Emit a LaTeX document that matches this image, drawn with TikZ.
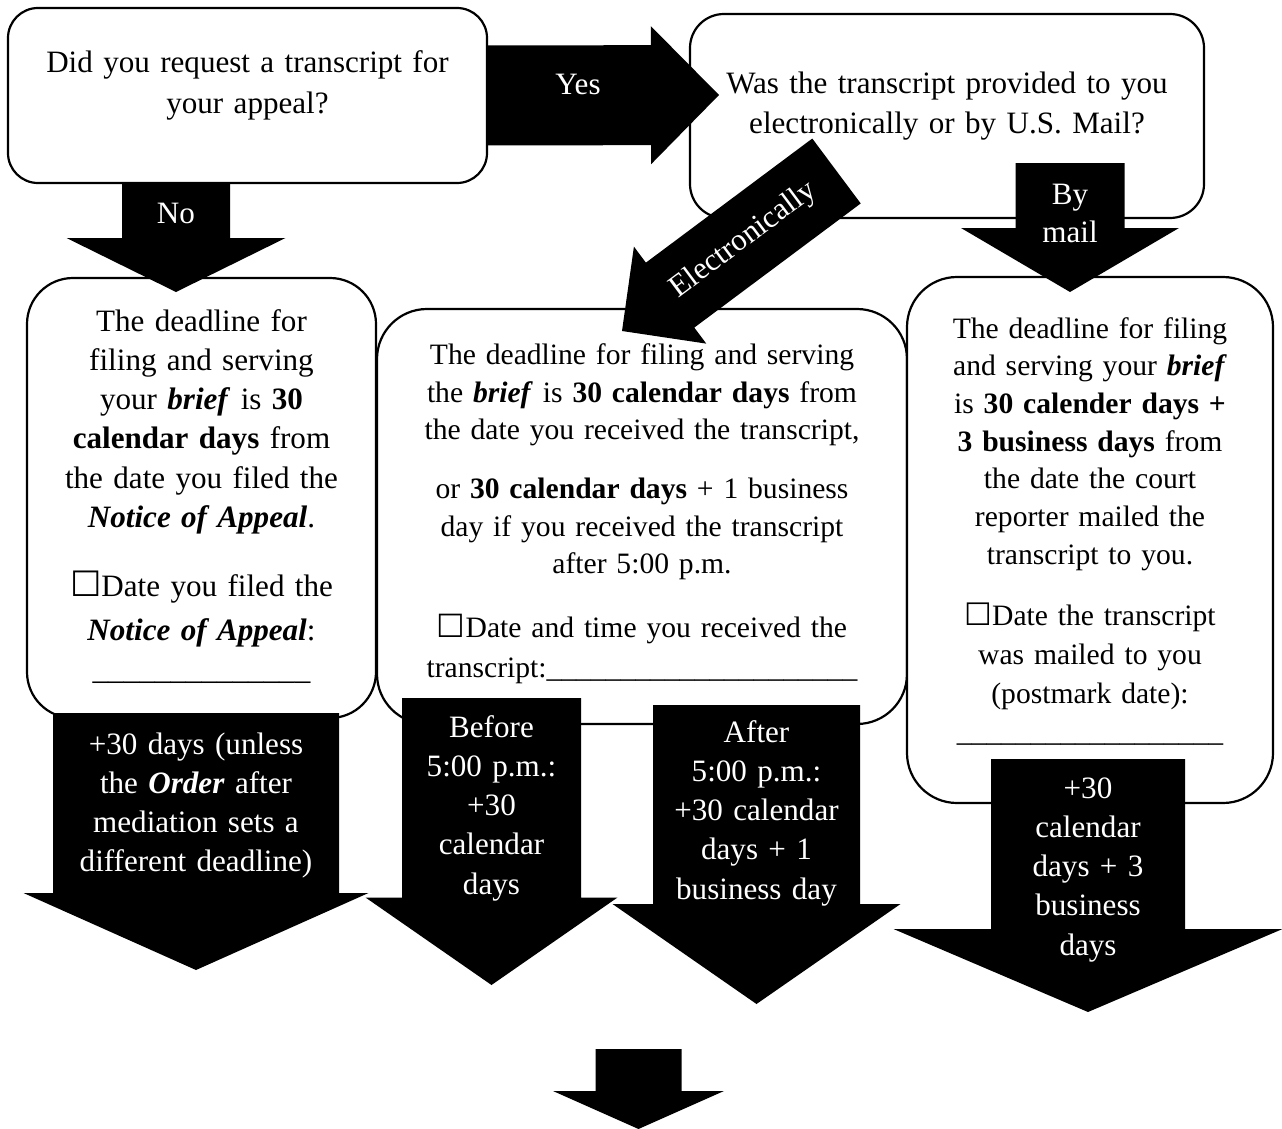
\documentclass[tikz,border=0pt]{standalone}
\usepackage{fontspec}
\setmainfont{Liberation Serif}
\newfontfamily\symfont{DejaVu Sans}
\usetikzlibrary{calc}

\newcommand{\bfit}[1]{\textbf{\textit{#1}}}
\newcommand{\chkbox}[1][35]{{\symfont\fontsize{#1}{39}\selectfont ☐}}

% block arrow: start, tip, shaft width, head width, head length
\newcommand{\blockarrow}[5]{%
  \pgfmathsetlengthmacro\arrshaft{#3/2}%
  \pgfmathsetlengthmacro\arrhead{#4/2}%
  \pgfmathsetlengthmacro\arrlen{#5}%
  \fill[blockfill] ($(#1)!\arrshaft!90:(#2)$)
    -- ($(#2)!\arrlen!(#1)!\arrshaft!-90:(#1)$)
    -- ($(#2)!\arrlen!(#1)!\arrhead!-90:(#1)$)
    -- (#2)
    -- ($(#2)!\arrlen!(#1)!\arrhead!90:(#1)$)
    -- ($(#2)!\arrlen!(#1)!\arrshaft!90:(#1)$)
    -- ($(#1)!\arrshaft!-90:(#2)$) -- cycle;
}

\tikzset{
  box/.style={draw, rounded corners=#1, line width=2.2pt, fill=white, inner sep=0pt},
  box/.default=50pt,
  txt/.style={font=\fontsize{31.1}{#1}\selectfont, text width=540pt, align=center,
    inner sep=0pt, anchor=base},
  txt/.default=39.3pt,
  stxt/.style={txt, font=\fontsize{29.6}{#1}\selectfont},
  stxt/.default=37.5pt,
  wtxt/.style={txt=#1, text=white},
  wtxt/.default=39.3pt,
  blockfill/.style={fill=black},
}

\begin{document}
\begin{tikzpicture}[x=1pt, y=-1pt]
\useasboundingbox (0,0) rectangle (1282,1129);

% question boxes
\node[box=30pt, minimum width=479pt, minimum height=175pt] (q1) at (247.5,95.5) {};
\node[box=34pt, minimum width=514pt, minimum height=204pt] (q2) at (947,116) {};
% deadline boxes
\node[box=46pt, minimum width=349pt, minimum height=440pt] (l1) at (201.5,498) {};
\node[box, minimum width=530pt, minimum height=415pt] (l2) at (642,516.5) {};
\node[box, minimum width=366pt, minimum height=526pt] (r1) at (1090,540) {};

% arrow ends
\coordinate (yes-tip) at (719,95);
\coordinate (no-start) at (176,183);
\coordinate (no-tip) at (176,292);
\coordinate (el-start) at (836.5,171);
\coordinate (el-tip) at (622,331);
\coordinate (mail-start) at (1070,163);
\coordinate (mail-tip) at (1070,292);
\coordinate (a1-start) at (196,713);
\coordinate (a1-tip) at (196,970);
\coordinate (a2-start) at (491.5,698);
\coordinate (a2-tip) at (491.5,985);
\coordinate (a3-start) at (756.5,705);
\coordinate (a3-tip) at (756.5,1004);
\coordinate (a4-start) at (1088,759);
\coordinate (a4-tip) at (1088,1012);
\coordinate (end-start) at (638.5,1049);
\coordinate (end-tip) at (638.5,1129);

\blockarrow{q1.east}{yes-tip}{100}{138}{68}
\blockarrow{no-start}{no-tip}{108}{219}{54}
\blockarrow{el-start}{el-tip}{81}{121}{60}
\blockarrow{mail-start}{mail-tip}{109}{218}{64}
\blockarrow{a1-start}{a1-tip}{286}{345}{77}
\blockarrow{a2-start}{a2-tip}{179}{252}{87.5}
\blockarrow{a3-start}{a3-tip}{207}{288}{100}
\blockarrow{a4-start}{a4-tip}{194}{389}{83}
\blockarrow{end-start}{end-tip}{86}{171}{38}

% box texts
\node[txt=41pt] (q1-txt) at (247.5,73) {Did you request a transcript for\\your appeal?};
\node[txt=40pt] (q2-txt) at (947,94) {Was the transcript provided to you\\electronically or by U.S. Mail?};
\node[txt] (l1-txt) at (201.5,331) {The deadline for\\filing and serving\\your \bfit{brief} is \textbf{30}\\
  \textbf{calendar days} from\\the date you filed the\\\bfit{Notice of Appeal}.\\[30pt]
  \chkbox Date you filed the\\[4pt]\bfit{Notice of Appeal}:\\
  \_\_\_\_\_\_\_\_\_\_\_\_\_\_};
\node[stxt] (l2-txt) at (642,364.6) {The deadline for filing and serving\\
  the \bfit{brief} is \textbf{30 calendar days} from\\the date you received the transcript,\\[21.5pt]
  or \textbf{30 calendar days} + 1 business\\day if you received the transcript\\after 5:00 p.m.\\[26.5pt]
  \chkbox[32]Date and time you received the\\[2.5pt]
  transcript:\_\_\_\_\_\_\_\_\_\_\_\_\_\_\_\_\_\_\_\_\_};
\node[stxt=37.7pt] (r1-txt) at (1090,338) {The deadline for filing\\and serving your \bfit{brief}\\
  is \textbf{30 calender days +}\\\textbf{3 business days} from\\the date the court\\
  reporter mailed the\\transcript to you.\\[24pt]
  \chkbox[31]Date the transcript\\[1pt]was mailed to you\\[1pt](postmark date):\\
  \_\_\_\_\_\_\_\_\_\_\_\_\_\_\_\_\_\_};

% arrow labels
\node[wtxt] (yes-lbl) at (578,95) {Yes};
\node[wtxt] (no-lbl) at (176,223) {No};
\node[wtxt=38pt] (mail-lbl) at (1070,204) {By\\mail};
\path (el-tip) -- (el-start) node[font=\fontsize{31.1}{39.3}\selectfont, text=white, inner sep=0pt, sloped, pos=0.567] (el-lbl) {Electronically};
\node[wtxt] (a1-lbl) at (196,754) {+30 days (unless\\the \bfit{Order} after\\mediation sets a\\different deadline)};
\node[wtxt] (a2-lbl) at (491.5,737) {Before\\5:00 p.m.:\\+30\\calendar\\days};
\node[wtxt] (a3-lbl) at (756.5,742) {After\\5:00 p.m.:\\+30 calendar\\days + 1\\business day};
\node[wtxt] (a4-lbl) at (1088,798) {+30\\calendar\\days + 3\\business\\days};
\end{tikzpicture}
\end{document}
